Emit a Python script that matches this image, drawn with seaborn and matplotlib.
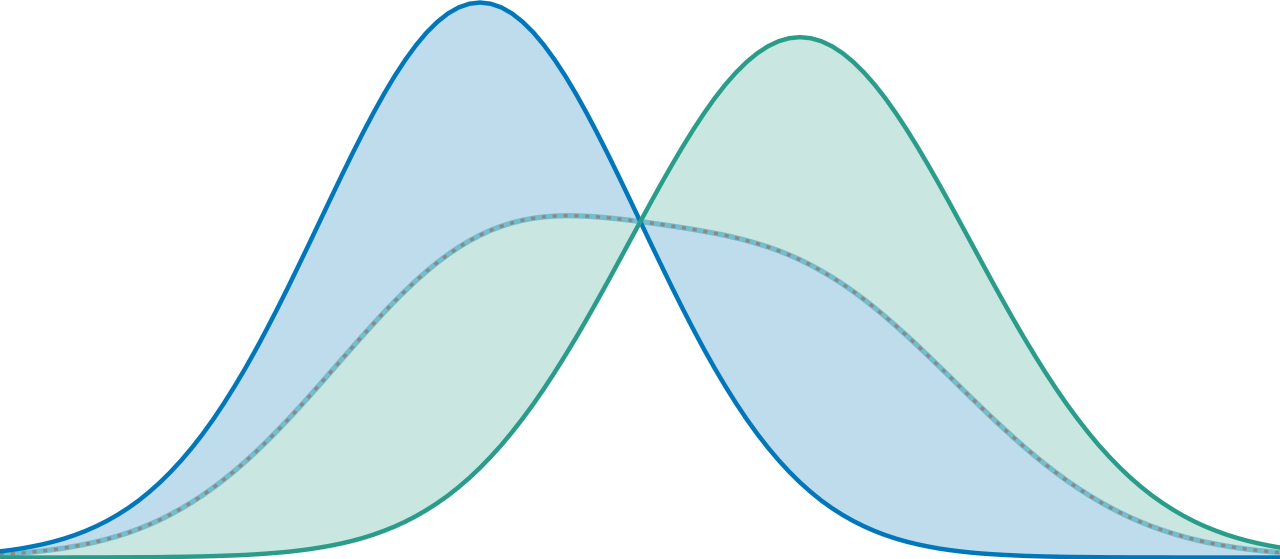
import numpy as np
import pandas as pd
import matplotlib
matplotlib.use("Agg")
import matplotlib.pyplot as plt
import seaborn as sns

# ---- data ----
x_vals = [round(-3.0 + 0.05 * i, 2) for i in range(121)]

blue_density = [
    0.0059, 0.0072, 0.0087, 0.0106, 0.0127, 0.0152, 0.0181, 0.0215, 0.0254, 0.0299,
    0.0350, 0.0408, 0.0473, 0.0546, 0.0629, 0.0720, 0.0821, 0.0932, 0.1053, 0.1184,
    0.1326, 0.1479, 0.1642, 0.1814, 0.1996, 0.2187, 0.2385, 0.2589, 0.2799, 0.3011,
    0.3226, 0.3441, 0.3654, 0.3863, 0.4065, 0.4259, 0.4443, 0.4614, 0.4770, 0.4910,
    0.5032, 0.5133, 0.5214, 0.5272, 0.5307, 0.5319,
    0.5307, 0.5272, 0.5214, 0.5133, 0.5032, 0.4910, 0.4770, 0.4614, 0.4443, 0.4259,
    0.4065, 0.3863, 0.3654, 0.3441, 0.3226, 0.3011, 0.2799, 0.2589, 0.2385, 0.2187,
    0.1996, 0.1814, 0.1642, 0.1479, 0.1326, 0.1184, 0.1053, 0.0932, 0.0821, 0.0720,
    0.0629, 0.0546, 0.0473, 0.0408, 0.0350, 0.0299, 0.0254, 0.0215, 0.0181, 0.0152,
    0.0127, 0.0106, 0.0087, 0.0072, 0.0059, 0.0048, 0.0039, 0.0032, 0.0026, 0.0021,
    0.0016, 0.0013, 0.0010, 0.0008, 0.0006, 0.0005, 0.0004, 0.0003, 0.0002, 0.0002,
    0.0001, 0.0001, 0.0001, 0.0001, 0.0000, 0.0000, 0.0000, 0.0000, 0.0000, 0.0000,
    0.0000, 0.0000, 0.0000, 0.0000, 0.0000,
]

green_density = [
    0.0000, 0.0000, 0.0000, 0.0000, 0.0000, 0.0000, 0.0000, 0.0001, 0.0001, 0.0001,
    0.0001, 0.0002, 0.0002, 0.0003, 0.0003, 0.0004, 0.0006, 0.0007, 0.0009, 0.0011,
    0.0014, 0.0017, 0.0021, 0.0025, 0.0031, 0.0038, 0.0046, 0.0055, 0.0067, 0.0080,
    0.0096, 0.0114, 0.0135, 0.0159, 0.0187, 0.0219, 0.0256, 0.0297, 0.0344, 0.0397,
    0.0456, 0.0522, 0.0594, 0.0675, 0.0763, 0.0860, 0.0965, 0.1078, 0.1201, 0.1332,
    0.1471, 0.1619, 0.1775, 0.1938, 0.2107, 0.2283, 0.2464, 0.2648, 0.2836, 0.3025,
    0.3213, 0.3401, 0.3585, 0.3764, 0.3937, 0.4102, 0.4257, 0.4401, 0.4532, 0.4648,
    0.4749, 0.4833, 0.4900, 0.4948, 0.4977, 0.4987,
    0.4977, 0.4948, 0.4900, 0.4833, 0.4749, 0.4648, 0.4532, 0.4401, 0.4257, 0.4102,
    0.3937, 0.3764, 0.3585, 0.3401, 0.3213, 0.3025, 0.2836, 0.2648, 0.2464, 0.2283,
    0.2107, 0.1938, 0.1775, 0.1619, 0.1471, 0.1332, 0.1201, 0.1078, 0.0965, 0.0860,
    0.0763, 0.0675, 0.0594, 0.0522, 0.0456, 0.0397, 0.0344, 0.0297, 0.0256, 0.0219,
    0.0187, 0.0159, 0.0135, 0.0114, 0.0096,
]

series_names = ["A", "B"]

# ---- styles ----
BLUE = "#0077bb"
GREEN = "#2a9d8a"
TEAL_BAND = "#76bdcb"
DOT_GRAY = "#898989"

df = pd.DataFrame({
    "x": x_vals * 2,
    "density": blue_density + green_density,
    "series": [series_names[0]] * len(x_vals) + [series_names[1]] * len(x_vals),
})
mean_curve = df.groupby("x", sort=True)["density"].mean()

sns.set_theme(style="white")
fig = plt.figure(figsize=(12.8, 5.59), dpi=100)
ax = fig.add_axes([0, 0, 1, 1])

xs = mean_curve.index.values
blue_arr = df[df["series"] == series_names[0]].set_index("x")["density"].reindex(xs).values
green_arr = df[df["series"] == series_names[1]].set_index("x")["density"].reindex(xs).values
ax.fill_between(xs, blue_arr, mean_curve.values,
                color=BLUE, alpha=0.25, linewidth=0, zorder=1)
ax.fill_between(xs, green_arr, mean_curve.values,
                color=GREEN, alpha=0.25, linewidth=0, zorder=1)

# mean curve: teal band with grey dots on top
sns.lineplot(data=df, x="x", y="density", estimator="mean", errorbar=None,
             color=TEAL_BAND, linewidth=3.8, ax=ax, zorder=2)
sns.lineplot(data=df, x="x", y="density", estimator="mean", errorbar=None,
             color=DOT_GRAY, linewidth=2.4, ax=ax, zorder=3)
ax.lines[-1].set_dashes([1.25, 2.0])
ax.lines[-1].set_dash_capstyle("butt")

sns.lineplot(data=df[df["series"] == series_names[0]], x="x", y="density",
             color=BLUE, linewidth=3.2, ax=ax, zorder=4)
sns.lineplot(data=df[df["series"] == series_names[1]], x="x", y="density",
             color=GREEN, linewidth=3.2, ax=ax, zorder=5)

ax.set_xlim(-3, 3)
ax.set_ylim(-0.0014, 0.5343)
ax.set_axis_off()
if ax.get_legend() is not None:
    ax.get_legend().remove()

fig.savefig("out.png", dpi=100, facecolor="white")
